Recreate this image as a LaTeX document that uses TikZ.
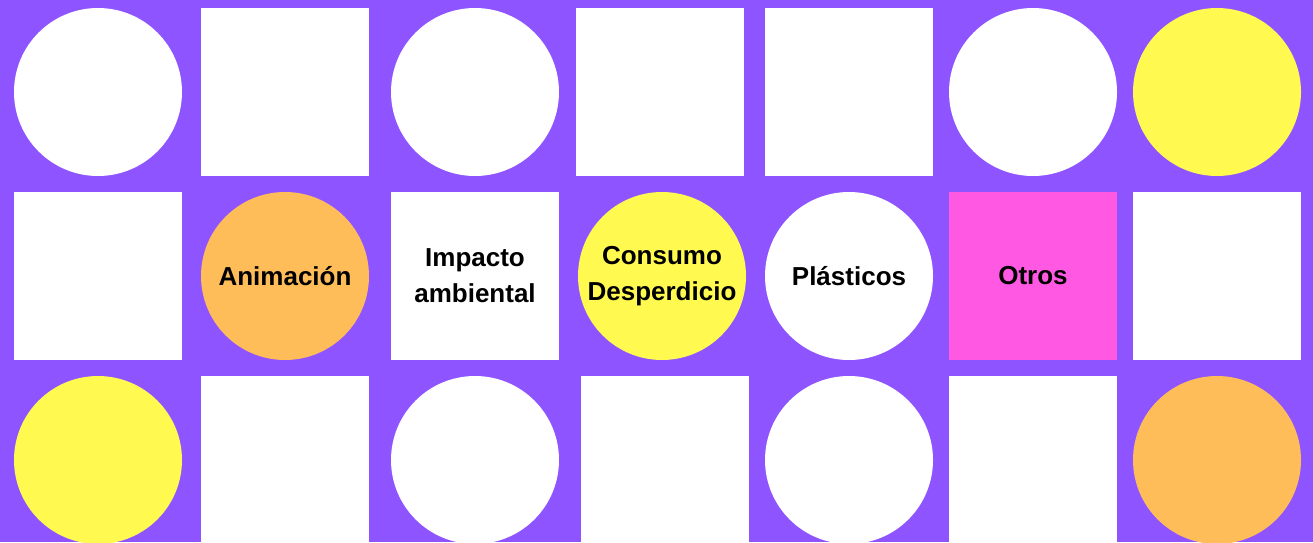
\documentclass[tikz,border=0pt]{standalone}
\usepackage{fontspec}
\setmainfont{Liberation Sans}
\definecolor{bgpurple}{RGB}{142,84,255}
\definecolor{cwhite}{RGB}{255,255,255}
\definecolor{cyellow}{RGB}{255,249,80}
\definecolor{corange}{RGB}{255,189,89}
\definecolor{cpink}{RGB}{255,89,227}
\begin{document}
\begin{tikzpicture}[x=1pt,y=-1pt,
  tile/.style={inner sep=0pt, outer sep=0pt, draw=none, align=center,
    font=\fontsize{26}{36}\selectfont\bfseries, text=black},
  roundtile/.style={tile, circle, minimum size=168pt},
  squaretile/.style={tile, rectangle, minimum width=168pt, minimum height=168pt}]
\fill[bgpurple] (0,0) rectangle (1313,542);
\useasboundingbox (0,0) rectangle (1313,542);
% row 1
\node[roundtile, fill=cwhite] (a1) at (98,92) {};
\node[squaretile, fill=cwhite] (a2) at (285,92) {};
\node[roundtile, fill=cwhite] (a3) at (475,92) {};
\node[squaretile, fill=cwhite] (a4) at (660,92) {};
\node[squaretile, fill=cwhite] (a5) at (849,92) {};
\node[roundtile, fill=cwhite] (a6) at (1033,92) {};
\node[roundtile, fill=cyellow] (a7) at (1217,92) {};
% row 2
\node[squaretile, fill=cwhite] (b1) at (98,276) {};
\node[roundtile, fill=corange] (b2) at (285,276) {Animación};
\node[squaretile, fill=cwhite] (b3) at (475,276) {Impacto\\ambiental};
\node[roundtile, fill=cyellow] (b4) at (662,276) {Consumo\\Desperdicio};
\node[roundtile, fill=cwhite] (b5) at (849,276) {Plásticos};
\node[squaretile, fill=cpink] (b6) at (1033,276) {Otros};
\node[squaretile, fill=cwhite] (b7) at (1217,276) {};
% row 3
\node[roundtile, fill=cyellow] (c1) at (98,460) {};
\node[squaretile, fill=cwhite] (c2) at (285,460) {};
\node[roundtile, fill=cwhite] (c3) at (475,460) {};
\node[squaretile, fill=cwhite] (c4) at (665,460) {};
\node[roundtile, fill=cwhite] (c5) at (849,460) {};
\node[squaretile, fill=cwhite] (c6) at (1033,460) {};
\node[roundtile, fill=corange] (c7) at (1217,460) {};
\end{tikzpicture}
\end{document}
